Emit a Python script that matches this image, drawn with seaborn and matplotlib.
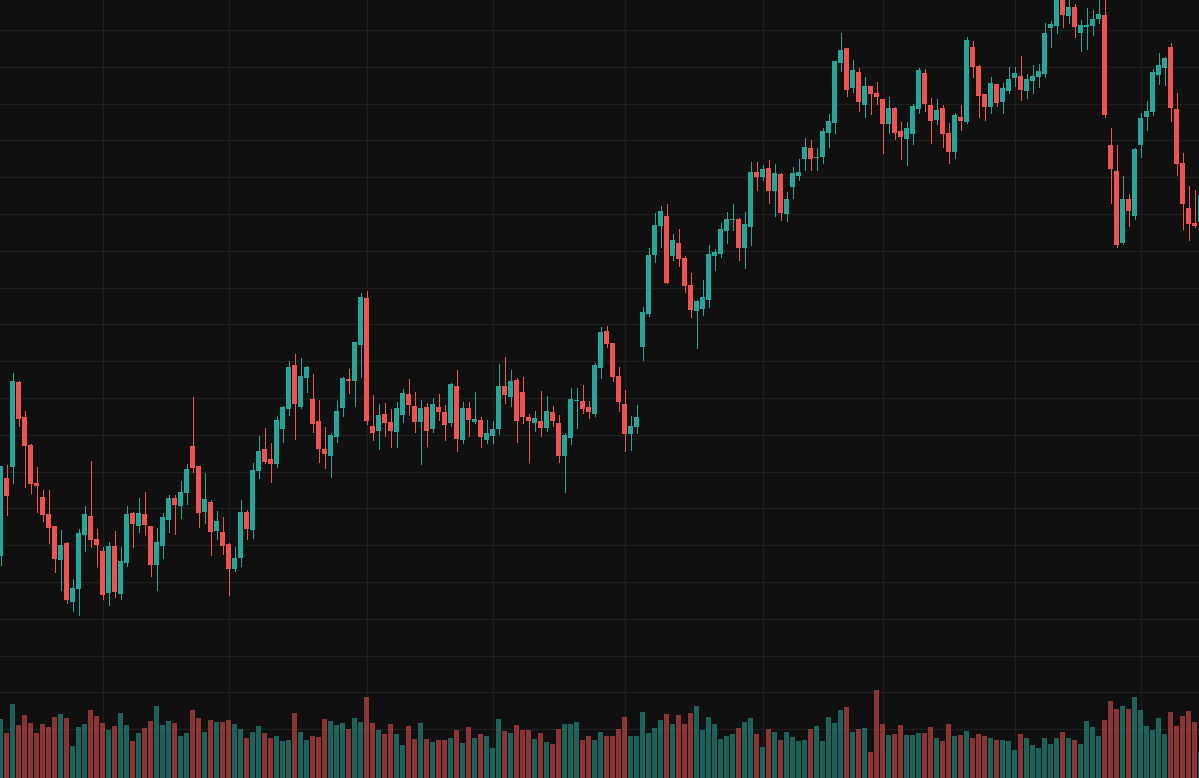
import numpy as np
import pandas as pd
import matplotlib
matplotlib.use("Agg")
import matplotlib.pyplot as plt
import seaborn as sns

# ---------------- data ----------------
opens = [44.4, 52.2, 53.3, 61.8, 58.3, 55.5, 51.7, 50.3, 48.6, 47.4,
         44.0, 45.7, 39.8, 41.1, 46.5, 48.4, 46.1, 44.9, 40.7, 45.4,
         40.6, 43.7, 48.7, 47.4, 48.6, 47.4, 43.5, 45.4, 48.0, 50.2,
         49.4, 50.7, 55.4, 53.4, 48.8, 49.8, 46.9, 46.8, 45.6, 43.1,
         44.2, 48.8, 47.0, 52.9, 55.1, 54.1, 53.6, 57.1, 59.1, 63.5,
         59.3, 62.2, 60.1, 57.9, 55.1, 54.4, 56.3, 59.2, 62.1, 61.9,
         65.5, 70.2, 57.4, 56.9, 58.6, 57.8, 56.8, 58.5, 60.6, 59.4,
         57.8, 59.3, 57.1, 59.3, 58.8, 57.7, 61.4, 56.0, 59.2, 57.8,
         58.0, 56.0, 56.4, 57.1, 61.4, 60.3, 62.0, 60.8, 58.3, 57.7,
         57.9, 57.2, 58.8, 57.7, 54.4, 56.2, 59.9, 59.9, 59.3, 58.6,
         63.2, 66.9, 65.7, 62.4, 59.6, 56.6, 57.3, 65.3, 68.6, 74.5,
         77.4, 78.4, 74.4, 75.7, 74.2, 71.5, 68.9, 69.1, 70.0, 74.4,
         74.6, 76.9, 78.0, 78.1, 75.2, 77.3, 82.8, 82.3, 83.2, 80.9,
         82.6, 78.6, 81.3, 82.4, 84.1, 85.2, 84.2, 84.3, 86.7, 87.7,
         93.7, 95.2, 91.2, 92.8, 89.5, 91.4, 90.7, 90.1, 87.6, 89.2,
         86.9, 86.1, 86.6, 89.1, 92.7, 89.5, 88.0, 89.2, 86.7, 84.8,
         88.3, 87.8, 95.3, 93.4, 90.6, 89.3, 91.6, 89.8, 90.9, 92.2,
         92.4, 90.9, 91.9, 92.3, 92.6, 97.2, 97.4, 100.4, 98.4, 99.3,
         96.7, 97.3, 97.4, 98.1, 98.5, 85.5, 82.9, 75.7, 80.1, 78.4,
         85.5, 88.3, 88.8, 92.5, 93.2, 95.3, 89.1, 83.7, 79.2, 77.7,
         77.8]

highs = [53.4, 53.5, 62.7, 61.9, 58.9, 55.6, 53.3, 51.0, 51.0, 47.4,
         47.0, 45.8, 42.1, 47.1, 49.4, 53.9, 47.1, 45.3, 45.8, 46.9,
         45.3, 49.4, 48.8, 50.2, 50.8, 47.4, 47.2, 48.7, 50.5, 50.5,
         51.9, 53.6, 60.3, 53.4, 52.7, 50.0, 48.9, 48.3, 45.7, 45.3,
         50.0, 49.0, 53.7, 56.4, 57.2, 55.7, 58.4, 59.4, 63.9, 64.6,
         64.2, 63.4, 62.6, 60.0, 57.3, 56.7, 59.9, 62.3, 63.1, 65.8,
         70.7, 70.9, 60.5, 59.6, 59.7, 59.1, 59.8, 61.1, 62.1, 60.8,
         60.0, 59.7, 60.2, 60.6, 59.5, 61.7, 63.0, 59.8, 59.8, 60.8,
         58.3, 58.0, 57.9, 63.6, 64.3, 63.0, 62.2, 62.3, 58.6, 58.9,
         60.9, 60.4, 59.4, 58.5, 56.7, 61.2, 61.2, 61.5, 59.9, 63.7,
         67.3, 67.4, 65.7, 63.3, 61.0, 58.4, 59.5, 69.3, 75.2, 78.7,
         79.4, 79.6, 76.6, 77.1, 74.4, 72.7, 70.0, 72.0, 75.5, 75.1,
         77.7, 78.8, 79.6, 78.2, 78.8, 83.8, 83.8, 83.5, 84.0, 83.6,
         82.7, 80.8, 83.3, 84.1, 86.2, 86.0, 85.2, 87.2, 88.6, 93.9,
         96.7, 95.2, 94.0, 93.2, 92.3, 91.4, 91.8, 90.1, 90.3, 89.3,
         87.8, 87.8, 89.6, 93.2, 93.1, 90.2, 90.1, 89.5, 87.7, 88.7,
         89.5, 96.3, 95.9, 93.5, 90.6, 92.3, 91.6, 91.7, 93.3, 93.3,
         94.4, 92.6, 93.5, 93.6, 97.7, 97.9, 101.2, 100.8, 100.0, 99.6,
         98.0, 99.2, 99.0, 100.0, 100.2, 87.2, 85.5, 82.4, 80.6, 85.2,
         88.7, 89.9, 93.1, 94.7, 94.3, 95.7, 90.7, 84.7, 81.4, 81.0,
         81.0]

lows = [43.5, 48.5, 51.7, 57.4, 51.3, 50.7, 48.8, 47.9, 45.7, 42.8,
        41.0, 39.7, 38.9, 38.5, 44.9, 45.3, 43.4, 40.1, 39.5, 40.3,
        40.1, 43.4, 45.3, 46.8, 46.6, 42.4, 41.0, 44.2, 46.8, 46.6,
        48.2, 49.6, 52.8, 47.3, 47.7, 44.5, 46.1, 44.6, 40.5, 42.9,
        43.4, 46.1, 46.2, 52.2, 53.7, 51.8, 53.3, 55.8, 58.5, 56.1,
        59.2, 60.8, 56.8, 53.8, 53.2, 52.3, 55.8, 58.4, 60.7, 59.4,
        62.3, 57.6, 56.0, 55.1, 56.4, 55.3, 55.3, 57.8, 58.6, 56.8,
        53.6, 55.4, 56.8, 58.0, 56.0, 57.4, 54.9, 55.7, 56.4, 57.7,
        55.3, 55.7, 55.7, 56.6, 59.7, 59.4, 55.8, 57.7, 53.8, 56.9,
        56.4, 56.9, 57.4, 53.8, 50.8, 55.6, 57.2, 58.7, 58.2, 58.4,
        62.2, 65.3, 61.9, 58.9, 54.9, 55.0, 56.7, 64.0, 68.4, 73.8,
        75.3, 71.7, 74.0, 73.4, 70.8, 68.3, 65.2, 68.5, 69.3, 73.0,
        74.3, 75.7, 77.0, 74.0, 73.2, 75.5, 81.0, 82.0, 79.7, 78.4,
        78.0, 77.9, 80.2, 82.0, 83.0, 83.0, 83.0, 83.7, 85.3, 86.7,
        92.9, 90.4, 90.8, 88.9, 88.3, 88.6, 89.6, 84.7, 86.7, 86.1,
        84.1, 83.5, 85.6, 88.7, 88.9, 85.7, 87.6, 85.3, 83.7, 84.2,
        87.0, 87.7, 92.3, 88.3, 88.0, 88.7, 89.4, 88.7, 90.7, 91.4,
        90.0, 90.2, 90.7, 91.3, 92.3, 95.3, 96.7, 97.3, 97.7, 96.3,
        94.9, 95.1, 96.5, 97.7, 88.3, 79.7, 75.3, 75.6, 77.4, 78.1,
        84.3, 87.0, 88.5, 91.6, 91.5, 87.9, 82.5, 77.1, 76.0, 77.3,
        77.4]

closes = [53.4, 50.4, 61.9, 58.1, 55.4, 51.6, 51.4, 48.5, 47.2, 44.1,
          45.5, 40.0, 41.2, 46.7, 48.6, 46.0, 45.5, 40.5, 45.4, 40.8,
          43.9, 48.6, 47.6, 48.7, 47.5, 43.5, 45.8, 48.3, 50.2, 49.5,
          50.8, 53.1, 53.2, 48.7, 50.1, 46.8, 47.9, 45.4, 43.1, 44.2,
          48.8, 47.1, 53.0, 54.9, 53.8, 53.6, 58.0, 59.3, 63.3, 59.6,
          62.4, 63.3, 57.6, 55.1, 54.6, 56.5, 58.9, 62.2, 61.9, 65.8,
          70.3, 57.9, 56.7, 58.5, 57.7, 56.9, 59.2, 60.7, 59.5, 57.8,
          59.2, 56.9, 59.6, 58.8, 57.5, 61.6, 56.1, 59.2, 58.0, 58.1,
          56.3, 56.7, 57.1, 61.4, 60.5, 61.9, 57.9, 58.3, 57.9, 58.2,
          57.2, 58.9, 57.9, 54.4, 56.5, 60.1, 60.0, 59.1, 58.8, 63.5,
          66.8, 65.6, 62.3, 59.8, 56.6, 57.4, 58.3, 68.8, 74.5, 77.5,
          78.9, 71.7, 76.0, 74.1, 71.4, 69.0, 69.9, 70.3, 74.6, 74.8,
          77.1, 78.1, 78.1, 75.2, 77.6, 82.8, 82.3, 83.1, 80.9, 82.7,
          78.7, 80.1, 82.7, 82.8, 85.3, 84.1, 84.3, 86.9, 87.9, 93.9,
          95.0, 91.0, 93.0, 89.8, 91.4, 90.6, 90.3, 87.6, 89.2, 86.7,
          86.3, 87.2, 89.4, 93.0, 89.6, 87.9, 89.0, 86.6, 84.8, 88.5,
          87.9, 96.0, 93.3, 90.4, 89.3, 91.7, 89.7, 91.2, 92.1, 92.7,
          91.0, 92.1, 92.4, 92.9, 96.7, 97.6, 100.6, 98.5, 99.3, 97.3,
          97.5, 97.5, 98.1, 98.6, 88.5, 83.1, 75.5, 80.1, 78.9, 85.1,
          88.2, 88.9, 92.8, 93.5, 94.2, 89.2, 83.6, 79.6, 77.6, 77.4,
          80.5]

volumes = [5.9, 4.5, 7.4, 5.3, 6.3, 5.5, 4.5, 5.4, 5.1, 6.1,
           6.4, 6.0, 3.2, 5.1, 5.4, 6.8, 6.2, 5.5, 4.8, 5.2,
           6.5, 5.3, 3.7, 4.5, 5.0, 5.7, 7.2, 5.3, 5.7, 5.5,
           4.2, 4.5, 6.8, 6.0, 4.6, 5.8, 5.6, 5.6, 5.8, 5.4,
           4.9, 4.0, 4.6, 5.2, 4.5, 4.0, 4.2, 3.7, 3.8, 6.5,
           4.6, 3.8, 4.2, 4.1, 5.9, 5.7, 5.3, 5.5, 4.9, 6.0,
           5.6, 8.1, 5.5, 4.8, 4.4, 5.4, 4.4, 3.3, 5.2, 3.9,
           5.5, 3.9, 3.6, 3.8, 3.8, 4.0, 4.8, 3.5, 5.1, 4.0,
           4.4, 4.2, 3.0, 5.9, 4.7, 4.5, 5.3, 4.8, 4.8, 3.9,
           4.5, 3.6, 3.4, 4.9, 5.4, 5.4, 5.6, 3.8, 4.2, 3.8,
           4.6, 4.2, 4.2, 4.9, 6.1, 4.2, 4.2, 6.6, 4.5, 5.0,
           5.8, 6.4, 5.4, 6.3, 5.4, 6.5, 7.2, 4.8, 6.1, 5.4,
           3.9, 4.2, 4.4, 5.0, 5.6, 6.0, 4.4, 3.1, 4.9, 4.6,
           3.8, 4.6, 4.1, 3.7, 3.8, 4.9, 5.2, 3.7, 6.1, 5.5,
           6.8, 7.1, 4.6, 4.9, 5.0, 2.6, 8.8, 5.4, 4.3, 4.4,
           5.3, 4.3, 4.3, 4.5, 4.5, 5.1, 4.0, 3.7, 5.4, 4.2,
           4.3, 4.7, 4.0, 4.4, 4.2, 4.0, 3.8, 3.8, 3.7, 2.8,
           4.4, 4.0, 3.3, 3.0, 4.0, 3.4, 4.0, 4.6, 4.0, 3.8,
           3.4, 5.7, 5.1, 4.2, 5.8, 7.7, 6.9, 7.2, 6.9, 8.1,
           6.8, 5.2, 4.8, 6.0, 4.4, 6.6, 5.2, 6.2, 6.7, 5.6,
           2.6]

# time-scale ticks (bar indices where vertical grid lines fall)
time_ticks = [17, 38, 61, 82, 104, 127, 147, 169, 190]

# ---------------- style ----------------
BG = "#101010"
GRID = "#1e1e1e"
UP = "#26a69a"
DOWN = "#ef5350"

sns.set_theme(style="dark", rc={"axes.facecolor": BG, "figure.facecolor": BG,
                                "savefig.facecolor": BG})

df = pd.DataFrame({"i": np.arange(len(opens)), "open": opens, "high": highs,
                   "low": lows, "close": closes, "volume": volumes})
df["dir"] = np.where(df["close"] >= df["open"], "up", "down")
colors = np.where(df["dir"] == "up", UP, DOWN)

fig = plt.figure(figsize=(11.99, 7.78), dpi=100)
ax = fig.add_axes([0, 0, 1, 1])
ax.set_facecolor(BG)

# grid
price_grid = 97.0 - 3.68 * np.arange(20)
ax.set_xticks(time_ticks)
ax.set_yticks(price_grid)
ax.grid(True, color=GRID, linewidth=1.0)
ax.set_axisbelow(True)
ax.tick_params(length=0, labelbottom=False, labelleft=False)
for s in ax.spines.values():
    s.set_visible(False)

# volume (seaborn barplot on a twin axis)
axv = ax.twinx()
sns.barplot(data=df, x="i", y="volume", hue="dir",
            palette={"up": UP, "down": DOWN}, native_scale=True, dodge=False,
            width=5 / 6, alpha=0.55, saturation=1, linewidth=0,
            errorbar=None, legend=False, ax=axv)
axv.set_ylim(0, 77.8)
axv.set_axis_off()

# candles
body_lo = np.minimum(df["open"], df["close"])
body_h = np.maximum(np.abs(df["close"] - df["open"]), 0.1)
ax.vlines(df["i"], df["low"], df["high"], colors=colors, linewidth=0.72,
          antialiased=False, zorder=3)
ax.bar(df["i"], body_h, bottom=body_lo, width=5 / 6, color=colors,
       linewidth=0, zorder=4)

ax.set_xlim(-0.5 / 6, -0.5 / 6 + 1199 / 6)
ax.set_ylim(100 - 77.8, 100)
ax.set_xlabel("")
ax.set_ylabel("")

fig.savefig("out.png", dpi=100, facecolor=BG)
